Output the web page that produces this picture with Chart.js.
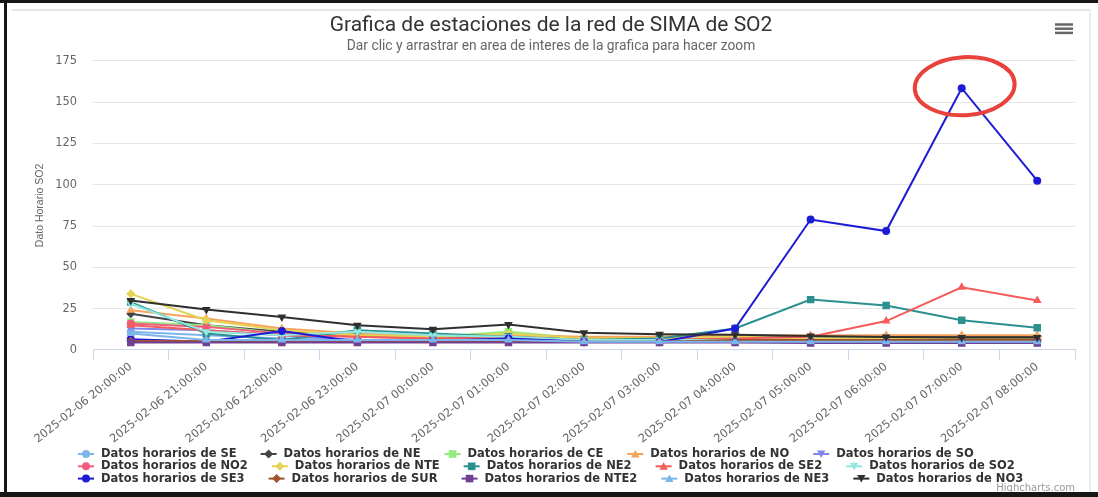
<!DOCTYPE html>
<html><head><meta charset="utf-8">
<script src="https://cdn.jsdelivr.net/npm/chart.js@4.4.1/dist/chart.umd.min.js"></script>
<style>
html,body{margin:0;padding:0;background:#fff;}
#wrap{position:relative;width:1098px;height:497px;overflow:hidden;background:#fff;}
canvas{position:absolute;left:0;top:0;}
.f{position:absolute;pointer-events:none;}
</style></head><body>
<div id="wrap"><canvas id="c" width="1098" height="497"></canvas>
<div class="f" style="left:0;top:0;width:1098px;height:3px;background:#161616"></div>
<div class="f" style="left:4px;top:0;width:3px;height:497px;background:#161616"></div>
<div class="f" style="left:0;top:492px;width:1098px;height:5px;background:#161616"></div>
<div class="f" style="left:12px;top:9px;width:1079px;height:2px;background:#e2e4e8"></div>
<div class="f" style="left:1089px;top:9px;width:2px;height:483px;background:#eceef0"></div>
</div>
<script>
const categories = ["2025-02-06 20:00:00","2025-02-06 21:00:00","2025-02-06 22:00:00","2025-02-06 23:00:00","2025-02-07 00:00:00","2025-02-07 01:00:00","2025-02-07 02:00:00","2025-02-07 03:00:00","2025-02-07 04:00:00","2025-02-07 05:00:00","2025-02-07 06:00:00","2025-02-07 07:00:00","2025-02-07 08:00:00"];
const yTickValues = [0,25,50,75,100,125,150,175];

const SE   = [11, 9, 7, 6, 6, 6, 5, 5, 5, 5, 5, 5, 5];
const NE   = [22, 15, 11, 9, 8, 8, 7, 7, 8, 8, 8, 8, 8];
const CE   = [17, 15, 10, 9, 8, 11, 7, 8, 8, 7, 7, 7, 7];
const NO   = [24, 19, 13, 10, 9, 9, 8, 8, 9, 9, 9, 9, 9];
const SO   = [13, 12, 9, 6, 6, 6, 5, 5, 5, 5, 5, 5, 5];
const NO2  = [16, 14, 10, 8, 7, 7, 6, 6, 6, 6, 6, 6, 6];
const NTE  = [34, 18, 12, 9, 8, 10, 7, 7, 8, 7, 7, 7, 7];
const NE2  = [29, 10, 6, 12, 10, 8, 6, 7, 13, 30.5, 27, 18, 13.5];
const SE2  = [15, 12, 9, 8, 7, 7, 6, 6, 7, 8, 17.5, 38, 30];
const SO2  = [28, 11, 9, 11, 9, 8, 6, 6, 6, 6, 6, 5, 5];
const SE3  = [6.5, 5, 11.5, 5, 5.5, 7, 5, 4.8, 13, 79, 72, 158.5, 102.5];
const SUR  = [5.5, 5.5, 5.5, 5.5, 5.5, 5.5, 5, 5, 6, 6, 6, 6, 6];
const NTE2 = [4.5, 4.5, 4.5, 4.5, 4.5, 4.5, 4.5, 4.5, 4.5, 4.3, 4.3, 4.3, 4.3];
const NE3  = [10, 6, 6, 6, 6, 6, 5, 5, 5, 5, 5, 5, 5];
const NO3  = [30, 24.5, 20, 15, 12.5, 15.5, 10.5, 9.5, 9.2, 8.5, 7.8, 7.5, 7.5];

const stationNames = ['SE','NE','CE','NO','SO','NO2','NTE','NE2','SE2','SO2','SE3','SUR','NTE2','NE3','NO3'];
const stationValues = [SE,NE,CE,NO,SO,NO2,NTE,NE2,SE2,SO2,SE3,SUR,NTE2,NE3,NO3];
const stationColors = ['#7cb5ec','#434348','#90ed7d','#f7a35c','#8085e9','#f15c80','#e4d354','#2b908f','#f45b5b','#91e8e1','#1c1cd4','#a0522d','#6f3f93','#7cb5ec','#2f2f2f'];
const stationMarkers = ['circle','diamond','square','triangle','triangle-down','circle','diamond','square','triangle','triangle-down','circle','diamond','square','triangle','triangle-down'];

const markerMap = {
  'circle': {style:'circle', rot:0, r:4},
  'diamond': {style:'rectRot', rot:0, r:4.5},
  'square': {style:'rect', rot:0, r:5.3},
  'triangle': {style:'triangle', rot:0, r:5},
  'triangle-down': {style:'triangle', rot:180, r:5}
};

const datasets = stationNames.map((n,i)=>{
  const m = markerMap[stationMarkers[i]];
  return {
    label: 'Datos horarios de ' + n,
    data: stationValues[i],
    borderColor: stationColors[i],
    backgroundColor: stationColors[i],
    pointBackgroundColor: stationColors[i],
    pointBorderWidth: 0,
    pointStyle: m.style,
    pointRotation: m.rot,
    pointRadius: m.r,
    borderWidth: 2,
    tension: 0,
    fill: false,
    order: -i,
    markerKind: stationMarkers[i]
  };
});

function drawMarker(ctx, kind, x, y, color){
  ctx.fillStyle = color;
  ctx.beginPath();
  if(kind==='circle'){ ctx.arc(x,y,4,0,Math.PI*2); }
  else if(kind==='diamond'){ ctx.moveTo(x,y-4.5); ctx.lineTo(x+4.5,y); ctx.lineTo(x,y+4.5); ctx.lineTo(x-4.5,y); }
  else if(kind==='square'){ ctx.rect(x-3.8,y-3.8,7.6,7.6); }
  else if(kind==='triangle'){ ctx.moveTo(x,y-4); ctx.lineTo(x+4.2,y+3.5); ctx.lineTo(x-4.2,y+3.5); }
  else { ctx.moveTo(x,y+4); ctx.lineTo(x+4.2,y-3.5); ctx.lineTo(x-4.2,y-3.5); }
  ctx.closePath();
  ctx.fill();
}

const hcLegend = {
  id:'hcLegend',
  afterDraw(chart){
    const ctx = chart.ctx;
    ctx.save();
    ctx.font = 'bold 11.5px "DejaVu Sans"';
    ctx.textBaseline = 'middle';
    ctx.textAlign = 'left';
    const startX = 78, maxRight = 1040, rowH = 12.3;
    let x = startX, y = chart.height - 43;
    chart.data.datasets.forEach(ds=>{
      const tw = ctx.measureText(ds.label).width;
      const w = 16 + 7 + tw;
      if(x > startX && x + w > maxRight){ x = startX; y += rowH; }
      ctx.strokeStyle = ds.borderColor; ctx.lineWidth = 2;
      ctx.beginPath(); ctx.moveTo(x, y); ctx.lineTo(x+16, y); ctx.stroke();
      drawMarker(ctx, ds.markerKind, x+8, y, ds.borderColor);
      ctx.fillStyle = '#333333';
      ctx.fillText(ds.label, x+23, y);
      x += w + 24;
    });
    ctx.font = '10px "DejaVu Sans"';
    ctx.fillStyle = '#999999';
    ctx.textAlign = 'right';
    ctx.fillText('Highcharts.com', chart.chartArea.right, chart.height - 9);
    ctx.strokeStyle = '#666666'; ctx.lineWidth = 2.5;
    for(let k=0;k<3;k++){
      const yy = 24.5 + k*4.2;
      ctx.beginPath(); ctx.moveTo(chart.width-43, yy); ctx.lineTo(chart.width-25, yy); ctx.stroke();
    }
    ctx.restore();
  }
};

const peakMark = {
  id:'peakMark',
  afterDatasetsDraw(chart){
    const di = stationNames.indexOf('SE3');
    const vals = stationValues[di];
    let mi = 0; vals.forEach((v,i)=>{ if(v>vals[mi]) mi=i; });
    const p = chart.getDatasetMeta(di).data[mi];
    const ctx = chart.ctx;
    ctx.save();
    ctx.strokeStyle = '#e8423b'; ctx.lineWidth = 4;
    ctx.beginPath();
    ctx.ellipse(p.x+3, p.y-2, 50, 29, -0.06, 0, Math.PI*2);
    ctx.stroke();
    ctx.restore();
  }
};

new Chart(document.getElementById('c'), {
  type:'line',
  data:{ labels: categories, datasets },
  options:{
    responsive:false,
    animation:false,
    layout:{ padding:{ left:12, right:8, top:0, bottom:51 } },
    plugins:{
      legend:{ display:false },
      tooltip:{ enabled:false },
      title:{ display:true, text:'Grafica de estaciones de la red de SIMA de SO2', color:'#333333',
        font:{ family:'Roboto', size:21, weight:'normal' }, padding:{ top:13, bottom:0 } },
      subtitle:{ display:true, text:'Dar clic y arrastrar en area de interes de la grafica para hacer zoom', color:'#666666',
        font:{ family:'Roboto', size:13.8, weight:'normal' }, padding:{ top:0, bottom:6.2 } }
    },
    scales:{
      x:{
        type:'category', offset:true,
        grid:{ display:true, drawOnChartArea:false, drawTicks:true, tickLength:10, color:'#ccd6eb', offset:true },
        border:{ display:true, color:'#ccd6eb', width:1 },
        ticks:{ autoSkip:false, minRotation:38.5, maxRotation:38.5, color:'#666666', font:{ family:'DejaVu Sans', size:11.4 }, padding:0 },
        afterFit(s){ s.height = 96; }
      },
      y:{
        min:0, max:175,
        afterBuildTicks(s){ s.ticks = yTickValues.map(v=>({value:v})); },
        ticks:{ color:'#666666', font:{ family:'DejaVu Sans', size:11.4 }, padding:16 },
        grid:{ color:'#e6e6e6', drawTicks:false, lineWidth:1 },
        border:{ display:false },
        title:{ display:true, text:'Dato Horario SO2', color:'#666666', font:{ family:'Liberation Sans', size:10.5 }, padding:{ top:21.7, bottom:0 } },
        afterFit(s){ s.width = 81; }
      },
      yR:{
        type:'linear', position:'right', display:true,
        grid:{ display:false }, border:{ display:false }, ticks:{ display:false },
        afterFit(s){ s.width = 15; }
      }
    }
  },
  plugins:[peakMark, hcLegend]
});
</script>
</body></html>
